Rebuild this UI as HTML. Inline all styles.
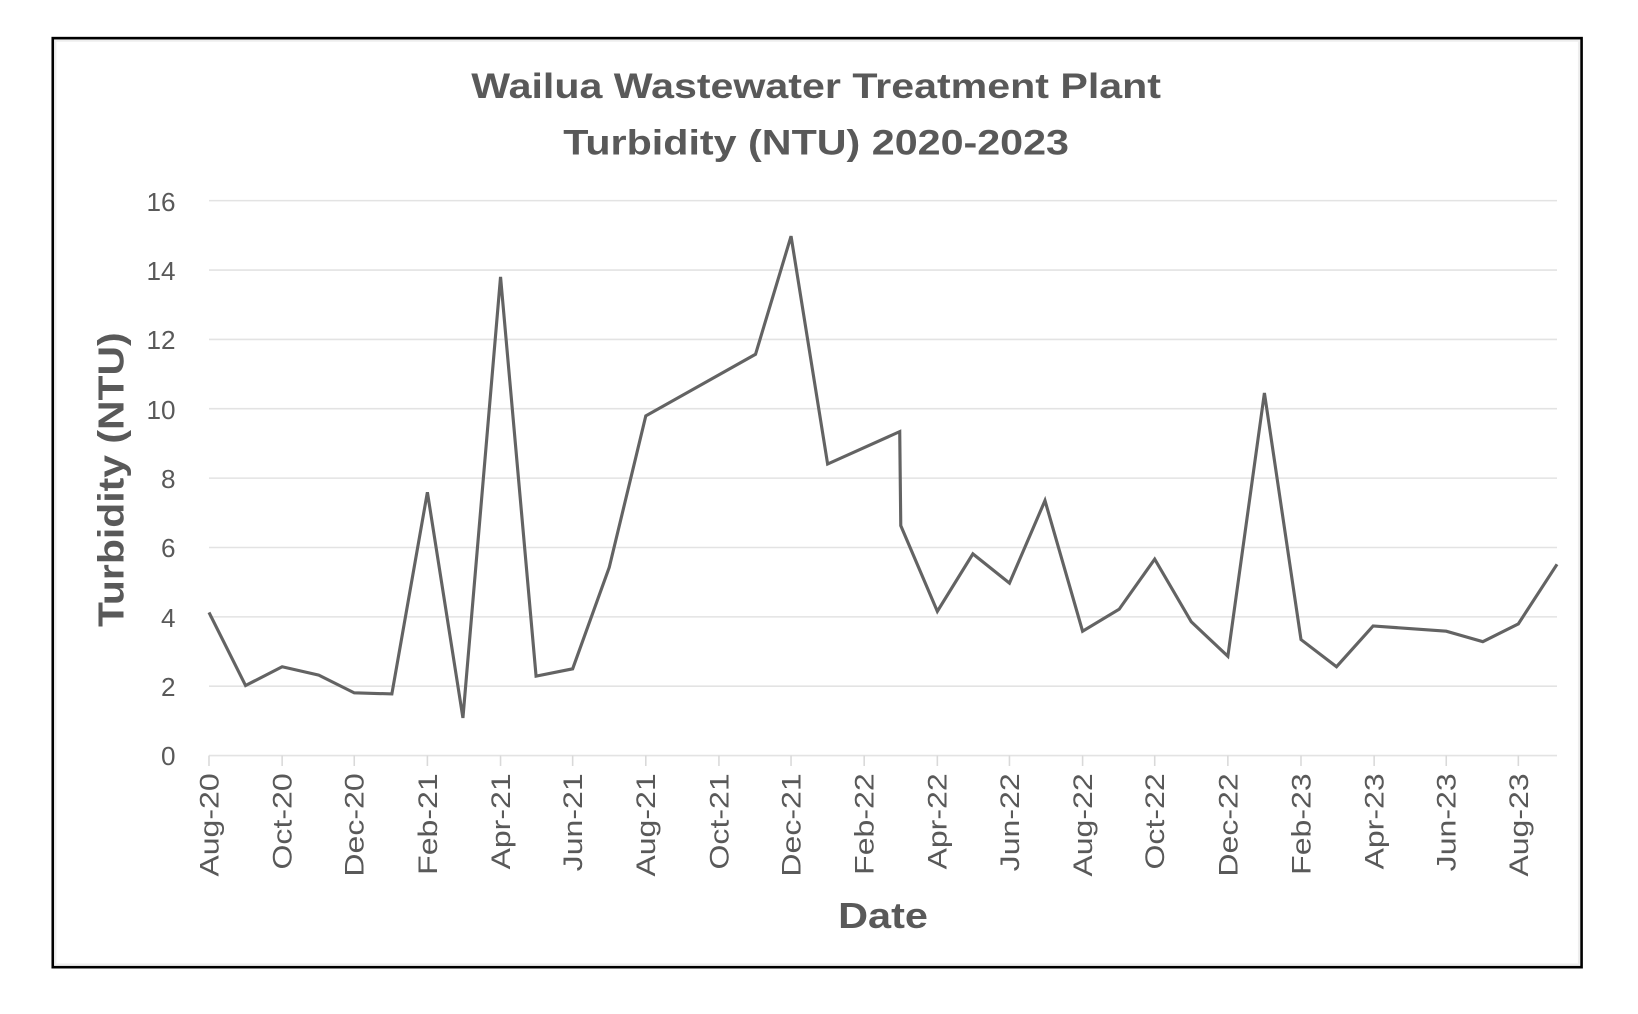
<!DOCTYPE html>
<html><head><meta charset="utf-8"><style>
html,body{margin:0;padding:0;background:#fff;}
svg{display:block;}
text{font-family:"Liberation Sans",sans-serif;fill:#595959;}
</style></head><body>
<svg width="1638" height="1014" viewBox="0 0 1567.5 970.3" preserveAspectRatio="none" xmlns="http://www.w3.org/2000/svg">
<rect x="0" y="0" width="1567.5" height="970.3" fill="#fff"/>
<rect x="50.5" y="36.5" width="1463" height="889" fill="#fff" stroke="#000" stroke-width="2.5"/>
<rect x="53" y="39" width="1458" height="884" fill="none" stroke="#eee" stroke-width="2"/>
<text x="781" y="94" text-anchor="middle" font-size="34" font-weight="bold" textLength="660" lengthAdjust="spacingAndGlyphs">Wailua Wastewater Treatment Plant</text>
<text x="781" y="148" text-anchor="middle" font-size="34" font-weight="bold" textLength="484" lengthAdjust="spacingAndGlyphs">Turbidity (NTU) 2020-2023</text>
<g stroke="#e3e3e3" stroke-width="1.5">
<line x1="200" x2="1490" y1="192" y2="192"/>
<line x1="200" x2="1490" y1="258.4" y2="258.4"/>
<line x1="200" x2="1490" y1="324.8" y2="324.8"/>
<line x1="200" x2="1490" y1="391.1" y2="391.1"/>
<line x1="200" x2="1490" y1="457.5" y2="457.5"/>
<line x1="200" x2="1490" y1="523.9" y2="523.9"/>
<line x1="200" x2="1490" y1="590.3" y2="590.3"/>
<line x1="200" x2="1490" y1="656.6" y2="656.6"/>
<line x1="200" x2="1490" y1="723" y2="723"/>
</g>
<g font-size="25" text-anchor="end">
<text x="168" y="202">16</text><text x="168" y="268">14</text><text x="168" y="334">12</text>
<text x="168" y="401">10</text><text x="168" y="467">8</text><text x="168" y="533">6</text>
<text x="168" y="600">4</text><text x="168" y="666">2</text><text x="168" y="732">0</text>
</g>
<text transform="translate(118,459) rotate(-90)" text-anchor="middle" font-size="35" font-weight="bold" textLength="282" lengthAdjust="spacingAndGlyphs">Turbidity (NTU)</text>
<g font-size="26" text-anchor="end">
<text transform="translate(209,740) rotate(-90) scale(1.18,1)">Aug-20</text>
<text transform="translate(279,740) rotate(-90) scale(1.18,1)">Oct-20</text>
<text transform="translate(348,740) rotate(-90) scale(1.18,1)">Dec-20</text>
<text transform="translate(418,740) rotate(-90) scale(1.18,1)">Feb-21</text>
<text transform="translate(488,740) rotate(-90) scale(1.18,1)">Apr-21</text>
<text transform="translate(557,740) rotate(-90) scale(1.18,1)">Jun-21</text>
<text transform="translate(627,740) rotate(-90) scale(1.18,1)">Aug-21</text>
<text transform="translate(697,740) rotate(-90) scale(1.18,1)">Oct-21</text>
<text transform="translate(766,740) rotate(-90) scale(1.18,1)">Dec-21</text>
<text transform="translate(836,740) rotate(-90) scale(1.18,1)">Feb-22</text>
<text transform="translate(906,740) rotate(-90) scale(1.18,1)">Apr-22</text>
<text transform="translate(975,740) rotate(-90) scale(1.18,1)">Jun-22</text>
<text transform="translate(1045,740) rotate(-90) scale(1.18,1)">Aug-22</text>
<text transform="translate(1114,740) rotate(-90) scale(1.18,1)">Oct-22</text>
<text transform="translate(1184,740) rotate(-90) scale(1.18,1)">Dec-22</text>
<text transform="translate(1254,740) rotate(-90) scale(1.18,1)">Feb-23</text>
<text transform="translate(1324,740) rotate(-90) scale(1.18,1)">Apr-23</text>
<text transform="translate(1393,740) rotate(-90) scale(1.18,1)">Jun-23</text>
<text transform="translate(1462,740) rotate(-90) scale(1.18,1)">Aug-23</text>
</g>
<g stroke="#d9d9d9" stroke-width="1.5">
<line x1="200" x2="200" y1="723" y2="733"/><line x1="270" x2="270" y1="723" y2="733"/>
<line x1="339" x2="339" y1="723" y2="733"/><line x1="409" x2="409" y1="723" y2="733"/>
<line x1="479" x2="479" y1="723" y2="733"/><line x1="548" x2="548" y1="723" y2="733"/>
<line x1="618" x2="618" y1="723" y2="733"/><line x1="688" x2="688" y1="723" y2="733"/>
<line x1="757" x2="757" y1="723" y2="733"/><line x1="827" x2="827" y1="723" y2="733"/>
<line x1="897" x2="897" y1="723" y2="733"/><line x1="966" x2="966" y1="723" y2="733"/>
<line x1="1036" x2="1036" y1="723" y2="733"/><line x1="1105" x2="1105" y1="723" y2="733"/>
<line x1="1175" x2="1175" y1="723" y2="733"/><line x1="1245" x2="1245" y1="723" y2="733"/>
<line x1="1315" x2="1315" y1="723" y2="733"/><line x1="1384" x2="1384" y1="723" y2="733"/>
<line x1="1453" x2="1453" y1="723" y2="733"/>
</g>
<text x="845" y="888" text-anchor="middle" font-size="35" font-weight="bold" textLength="86" lengthAdjust="spacingAndGlyphs">Date</text>
<polyline fill="none" stroke="#636363" stroke-width="3" stroke-linejoin="miter"
points="200,586 235,656 270,638 305,646 339,663 375,664 409,471 443,687 479,265 513,647 548,640 583,543 618,398 723,339 757,226 792,444 861,413 862,503 897,585 931,530 966,558 1000,479 1036,604 1071,583 1105,535 1140,595 1175,628 1210,376 1245,612 1279,638 1314,599 1384,604 1419,614 1453,597 1490,540"/>
</svg>
</body></html>
